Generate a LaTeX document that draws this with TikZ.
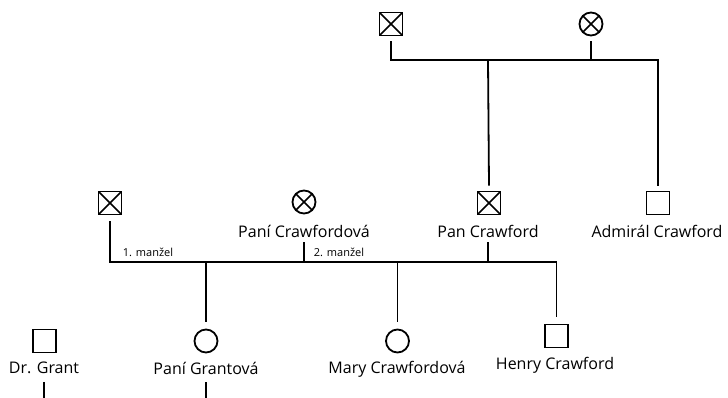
\documentclass[tikz,border=0pt]{standalone}
\usepackage{fontspec}
\setmainfont{Open Sans}
\begin{document}
\begin{tikzpicture}[x=1pt,y=-1pt,line width=1.8pt,
  male/.style={draw,rectangle,minimum size=23pt,inner sep=0pt},
  female/.style={draw,circle,minimum size=23pt,inner sep=0pt},
  dead/.style={path picture={\draw[line width=1.6pt] (path picture bounding box.north west) -- (path picture bounding box.south east) (path picture bounding box.north east) -- (path picture bounding box.south west);}},
  deadf/.style={path picture={\draw[line width=1.6pt] ([shift={(45:11.5pt)}]path picture bounding box.center) -- ([shift={(225:11.5pt)}]path picture bounding box.center) ([shift={(135:11.5pt)}]path picture bounding box.center) -- ([shift={(-45:11.5pt)}]path picture bounding box.center);}},
  lbl/.style={font=\fontsize{16}{18}\selectfont,inner sep=0pt},
  small/.style={font=\fontsize{11}{13}\selectfont,inner sep=0pt,anchor=west}]
\useasboundingbox (0,0) rectangle (728,398);
% top generation
\node[male,dead] (gf) at (391,24) {};
\node[female,deadf] (gm) at (591,24) {};
% second generation
\node[male,dead] (h1) at (110,203) {};
\node[female,deadf] (pcw) at (304,202) {};
\node[lbl] (pcwl) at (304,231) {Paní Crawfordová};
\node[male,dead] (pan) at (489,203) {};
\node[lbl] (panl) at (488,231) {Pan Crawford};
\node[male] (adm) at (658,203) {};
\node[lbl] (adml) at (657,231) {Admirál Crawford};
% third generation
\node[male] (grant) at (44.5,341) {};
\node[lbl] (grantl) at (44,368) {Dr. Grant};
\node[female] (pg) at (206,341) {};
\node[lbl] (pgl) at (206,368) {Paní Grantová};
\node[female] (mary) at (397.5,341) {};
\node[lbl] (maryl) at (397,369) {Mary Crawfordová};
\node[male] (henry) at (556.5,336) {};
\node[lbl] (henryl) at (555,365) {Henry Crawford};
% junctions
\coordinate (j1) at (488,60);
\coordinate (j2) at (304,262);
\coordinate (j3) at (488,262);
\coordinate (e1) at (44,398);
\coordinate (e2) at (206,398);
% connectors
\draw ([yshift=-5pt]gf.south) |- (adm.north |- j1) -- ([yshift=5pt]adm.north);
\draw ([yshift=-5pt]gm.south) -- (gm.south |- j1);
\draw (j1) -- ([yshift=5pt]pan.north);
\draw ([yshift=-6pt]h1.south) |- (henry.north |- j2) -- ([yshift=7pt]henry.north);
\draw ([yshift=-4pt]pcwl.south) -- (j2);
\draw ([yshift=-4pt]panl.south) -- (j3);
\draw (pg.north |- j2) -- ([yshift=7pt]pg.north);
\draw (mary.north |- j2) -- ([yshift=7pt]mary.north);
\draw ([yshift=-7pt]grantl.south) -- (e1);
\draw ([yshift=-7pt]pgl.south) -- (e2);
\node[small] (m1) at (122,252) {1. manžel};
\node[small] (m2) at (313,252) {2. manžel};
\end{tikzpicture}
\end{document}
